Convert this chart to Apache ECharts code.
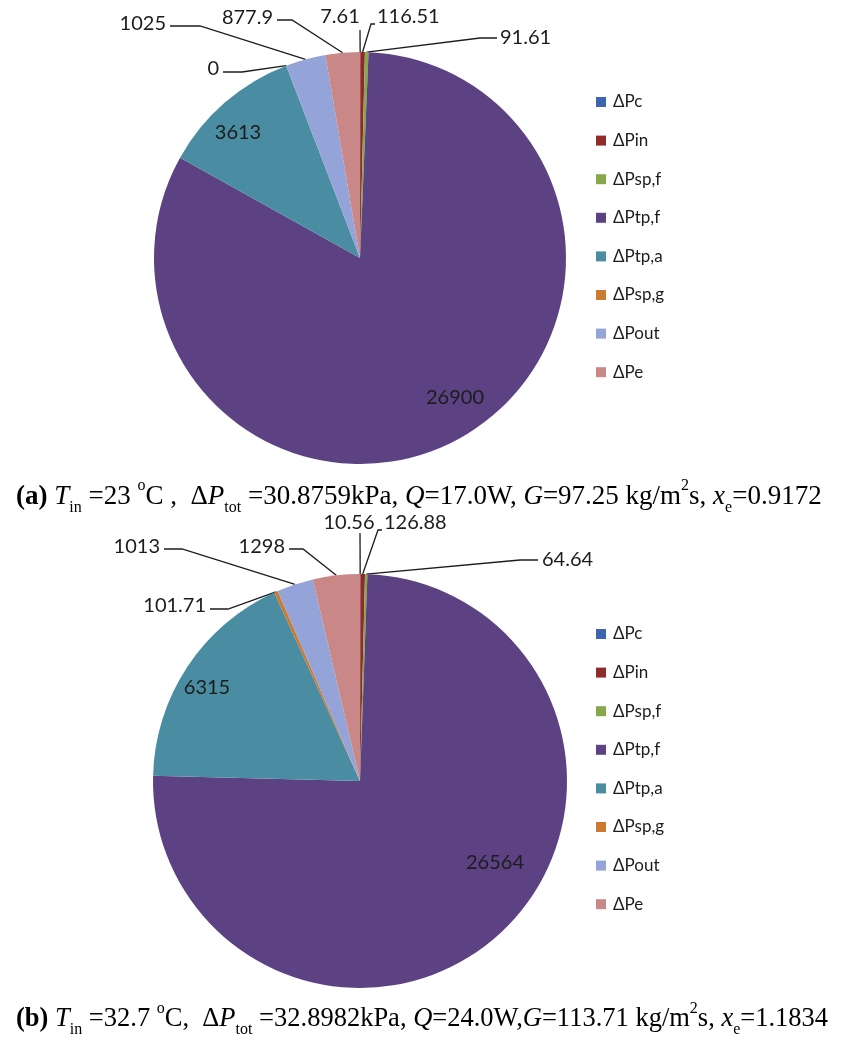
<!DOCTYPE html>
<html>
<head>
<meta charset="utf-8">
<script src="https://cdn.jsdelivr.net/npm/echarts@6/dist/echarts.min.js"></script>
<style>
  html, body { margin: 0; padding: 0; background: #ffffff; }
  #chart { width: 850px; height: 1040px; }
</style>
</head>
<body>
<div id="chart"></div>
<script>
// Pressure-drop components (Pa) for the two operating points
const categories = ['ΔPc', 'ΔPin', 'ΔPsp,f', 'ΔPtp,f', 'ΔPtp,a', 'ΔPsp,g', 'ΔPout', 'ΔPe'];
const valuesA = [7.61, 116.51, 91.61, 26900, 3613, 0, 1025, 877.9];
const valuesB = [10.56, 126.88, 64.64, 26564, 6315, 101.71, 1013, 1298];
const sliceColors = ['#3d66b0', '#8f2b29', '#86a84a', '#5c4282', '#4a8ca2', '#cc7a30', '#94a3d8', '#c98787'];

// Which labels sit inside their slice
const insideA = [false, false, false, true, true, false, false, false];
const insideB = [false, false, false, true, true, false, false, false];

// Label anchor spots and leader-line bends (pixels)
const spotsA = [
  { x: 340, y: 17, align: 'center', line: [[360, 30], [360, 30]] },
  { x: 377, y: 17, align: 'left',   line: [[371, 24], [375, 24]] },
  { x: 500, y: 38, align: 'left',   line: [[480, 38], [497, 38]] },
  { x: 455, y: 398, align: 'center' },
  { x: 238, y: 133, align: 'center' },
  { x: 219, y: 69, align: 'right',  line: [[242, 72], [223, 72]] },
  { x: 166, y: 24, align: 'right',  line: [[200, 26], [170, 26]] },
  { x: 273, y: 18, align: 'right',  line: [[292, 20], [277, 20]] }
];
const spotsB = [
  { x: 349, y: 523, align: 'center', line: [[360, 533], [360, 533]] },
  { x: 384, y: 523, align: 'left',   line: [[378, 530], [382, 530]] },
  { x: 542, y: 560, align: 'left',   line: [[520, 560], [538, 560]] },
  { x: 495, y: 863, align: 'center' },
  { x: 207, y: 688, align: 'center' },
  { x: 206, y: 606, align: 'right',  line: [[228, 609], [210, 609]] },
  { x: 160, y: 547, align: 'right',  line: [[182, 549], [164, 549]] },
  { x: 285, y: 547, align: 'right',  line: [[303, 549], [289, 549]] }
];

function buildData(values, inside) {
  return categories.map(function (name, i) {
    return {
      name: name,
      value: values[i],
      itemStyle: { color: sliceColors[i] },
      label: { position: inside[i] ? 'inside' : 'outside' },
      labelLine: { show: !inside[i] }
    };
  });
}

function placeLabels(spots) {
  return function (p) {
    const s = spots[p.dataIndex];
    const out = { x: s.x, y: s.y, align: s.align, verticalAlign: 'middle' };
    if (s.line && p.labelLinePoints && p.labelLinePoints.length) {
      out.labelLinePoints = [p.labelLinePoints[0].slice(), s.line[0], s.line[1]];
    }
    return out;
  };
}

function pieSeries(values, inside, spots, center, radius) {
  return {
    type: 'pie',
    center: center,
    radius: radius,
    startAngle: 90,
    clockwise: true,
    avoidLabelOverlap: false,
    animation: false,
    silent: true,
    data: buildData(values, inside),
    label: {
      show: true,
      formatter: function (p) { return String(p.value); },
      fontFamily: 'Lato',
      fontSize: 20,
      color: '#1c1c1c'
    },
    labelLine: {
      show: true,
      length: 10,
      length2: 10,
      lineStyle: { color: '#1c1c1c', width: 1.3 }
    },
    labelLayout: placeLabels(spots),
    emphasis: { disabled: true }
  };
}

function legendAt(top) {
  return {
    data: categories,
    orient: 'vertical',
    left: 591,
    top: top,
    icon: 'rect',
    itemWidth: 10,
    itemHeight: 10,
    itemGap: 20.6,
    selectedMode: false,
    textStyle: { fontFamily: 'Lato', fontSize: 17, color: '#1c1c1c', lineHeight: 18, padding: [0, 0, 0, 2] }
  };
}

// Caption text styles: upright, bold tag, italic symbols, sub- and superscripts
function captionRich(size) {
  const base = { fontFamily: 'Liberation Serif', color: '#000', fontWeight: 'normal' };
  const small = Math.round(size * 0.6);
  const lh = Math.round(size * 1.4);
  return {
    n:   Object.assign({}, base, { fontSize: size, lineHeight: lh }),
    b:   Object.assign({}, base, { fontSize: size, lineHeight: lh, fontWeight: 'bold' }),
    i:   Object.assign({}, base, { fontSize: size, lineHeight: lh, fontStyle: 'italic' }),
    sub: Object.assign({}, base, { fontSize: small, verticalAlign: 'bottom' }),
    sup: Object.assign({}, base, { fontSize: small, verticalAlign: 'top' })
  };
}

const captionA = '{b|(a)}{n| }{i|T}{sub|in}{n| =23 }{sup|o}{n|C ,  Δ}{i|P}{sub|tot}{n| =30.8759kPa, }{i|Q}{n|=17.0W, }{i|G}{n|=97.25 kg/m}{sup|2}{n|s, }{i|x}{sub|e}{n|=0.9172}';
const captionB = '{b|(b)}{n| }{i|T}{sub|in}{n| =32.7 }{sup|o}{n|C,  Δ}{i|P}{sub|tot}{n| =32.8982kPa, }{i|Q}{n|=24.0W,}{i|G}{n|=113.71 kg/m}{sup|2}{n|s, }{i|x}{sub|e}{n|=1.1834}';

const chart = echarts.init(document.getElementById('chart'), null, { renderer: 'canvas' });
chart.setOption({
  backgroundColor: '#ffffff',
  animation: false,
  title: [
    { text: captionA, left: 16, top: 478, padding: 0, textStyle: { fontWeight: 'normal', rich: captionRich(27) } },
    { text: captionB, left: 16, top: 1001, padding: 0, textStyle: { fontWeight: 'normal', rich: captionRich(26.5) } }
  ],
  legend: [legendAt(88), legendAt(620)],
  series: [
    pieSeries(valuesA, insideA, spotsA, [360, 258], 206),
    pieSeries(valuesB, insideB, spotsB, [360, 781], 207)
  ]
});
</script>
</body>
</html>
